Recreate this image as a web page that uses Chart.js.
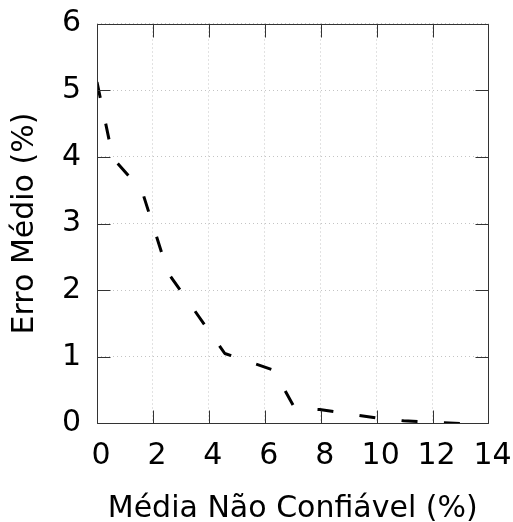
<!DOCTYPE html>
<html>
<head>
<meta charset="utf-8">
<script src="https://cdn.jsdelivr.net/npm/chart.js@4"></script>
<style>
  html, body { margin: 0; padding: 0; background: #fff; }
  canvas { display: block; }
</style>
</head>
<body>
<canvas id="chart" width="513" height="522"></canvas>
<script>
// valores
var mediaNaoConfiavel = [0, 0.57, 1.61, 2.54, 4.57, 6.32, 7.07, 7.96, 10.04, 10.96, 13.0];
var erroMedio = [5.12, 3.98, 3.49, 2.26, 1.05, 0.80, 0.23, 0.21, 0.08, 0.04, 0.0];

var xTicks = [0, 2, 4, 6, 8, 10, 12, 14];
var yTicks = [0, 1, 2, 3, 4, 5, 6];

var tituloX = 'Média Não Confiável (%)';
var tituloY = 'Erro Médio (%)';

var fonte = 'DejaVu Sans';

// borda e marcas para dentro (estilo gnuplot)
var bordaPlugin = {
	id: 'borda',
	afterDraw: function(chart) {
		var ctx = chart.ctx;
		var a = chart.chartArea;
		var xs = chart.scales.x, ys = chart.scales.y;
		var L = Math.round(a.left) + 0.5, R = Math.round(a.right) - 0.5;
		var T = Math.round(a.top) + 0.5, B = Math.round(a.bottom) - 0.5;
		var len = 13;
		ctx.save();
		ctx.strokeStyle = '#333333';
		ctx.lineWidth = 1;
		ctx.setLineDash([]);
		ctx.beginPath();
		ctx.rect(L, T, R - L, B - T);
		xs.ticks.forEach(function(t) {
			var px = Math.round(xs.getPixelForValue(t.value)) + 0.5;
			px = Math.min(Math.max(px, L), R);
			ctx.moveTo(px, B); ctx.lineTo(px, B - len);
			ctx.moveTo(px, T); ctx.lineTo(px, T + len);
		});
		ys.ticks.forEach(function(t) {
			var py = Math.round(ys.getPixelForValue(t.value)) + 0.5;
			py = Math.min(Math.max(py, T), B);
			ctx.moveTo(L, py); ctx.lineTo(L + len, py);
			ctx.moveTo(R, py); ctx.lineTo(R - len, py);
		});
		ctx.stroke();
		ctx.restore();
	}
};

// tira o espaco extra que o Chart.js reserva para os rotulos
function semPadding(scale) {
	scale.paddingTop = 0;
	scale.paddingBottom = 0;
	scale.paddingLeft = 0;
	scale.paddingRight = 0;
}

var pontos = mediaNaoConfiavel.map(function(x, i) {
	return { x: x, y: erroMedio[i] };
});

var ctx = document.getElementById('chart').getContext('2d');
var chart = new Chart(ctx, {
	type: 'line',
	data: {
		datasets: [{
			data: pontos,
			borderColor: '#000000',
			borderWidth: 3,
			borderDash: [16, 26.4],
			borderCapStyle: 'butt',
			borderJoinStyle: 'round',
			pointRadius: 0,
			pointHoverRadius: 0,
			fill: false,
			tension: 0
		}]
	},
	options: {
		responsive: false,
		animation: false,
		devicePixelRatio: 1,
		layout: { autoPadding: false, padding: { top: 23.5, right: 24.5, left: 0, bottom: 0 } },
		plugins: {
			legend: { display: false },
			tooltip: { enabled: false }
		},
		scales: {
			x: {
				type: 'linear',
				position: 'bottom',
				min: 0,
				max: 14,
				afterBuildTicks: function(scale) {
					scale.ticks = xTicks.map(function(v) { return { value: v }; });
				},
				afterFit: function(scale) { scale.height = 98.5; semPadding(scale); },
				ticks: {
					font: { family: fonte, size: 30 },
					color: '#000000',
					padding: 14.5,
					labelOffset: 4,
					maxRotation: 0,
					autoSkip: false
				},
				grid: {
					color: '#c4c4c4',
					lineWidth: 1,
					drawTicks: false
				},
				border: { display: false, dash: [1, 3] },
				title: {
					display: true,
					text: tituloX,
					color: '#000000',
					font: { family: fonte, size: 30, lineHeight: 0.8 },
					padding: { top: 0, bottom: 1 }
				}
			},
			y: {
				type: 'linear',
				min: 0,
				max: 6,
				afterBuildTicks: function(scale) {
					scale.ticks = yTicks.map(function(v) { return { value: v }; });
				},
				afterFit: function(scale) { scale.width = 97; semPadding(scale); },
				ticks: {
					font: { family: fonte, size: 30 },
					color: '#000000',
					padding: 16,
					autoSkip: false
				},
				grid: {
					color: '#c4c4c4',
					lineWidth: 1,
					drawTicks: false
				},
				border: { display: false, dash: [1, 3] },
				title: {
					display: true,
					text: tituloY,
					color: '#000000',
					font: { family: fonte, size: 30, lineHeight: 1.2 },
					padding: { top: 7, bottom: 0 }
				}
			}
		}
	},
	plugins: [bordaPlugin]
});
</script>
</body>
</html>
